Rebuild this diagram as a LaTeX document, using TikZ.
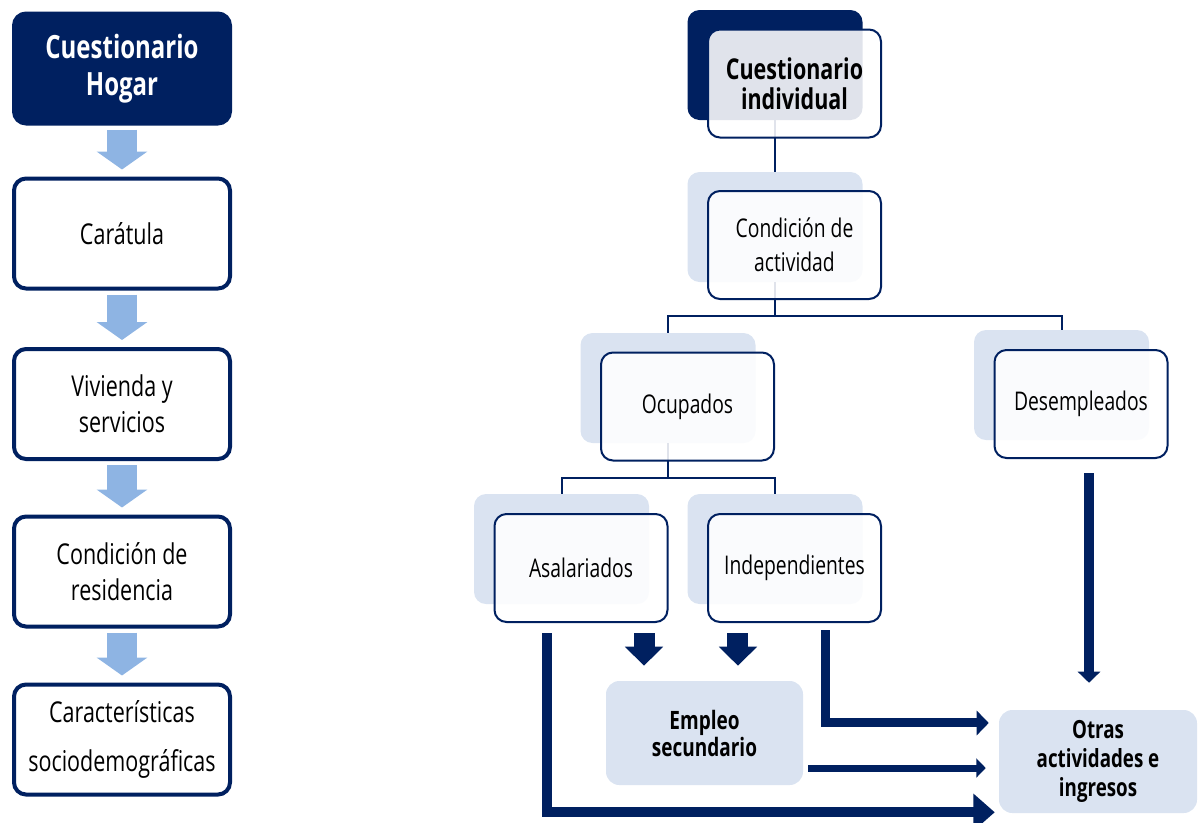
\documentclass[tikz,border=0pt]{standalone}
\usepackage{fontspec}
\setmainfont{Open Sans}[FakeStretch=0.75]
\usetikzlibrary{arrows.meta}
\definecolor{navy}{HTML}{002060}
\definecolor{lightarrow}{HTML}{8EB4E3}
\definecolor{backblue}{HTML}{DAE3F1}
\begin{document}
\begin{tikzpicture}[x=0.75pt,y=-0.75pt,
  leftbox/.style={draw=navy, line width=3pt, rounded corners=9pt, fill=white,
    minimum width=162pt, minimum height=82.5pt, align=center, inner sep=0pt,
    font=\fontsize{21.5}{27}\selectfont},
  headbox/.style={leftbox, fill=navy, text=white, font=\bfseries\fontsize{24}{28}\selectfont},
  backbox/.style={fill=backblue, rounded corners=9pt, minimum width=131.25pt,
    minimum height=82.5pt, inner sep=0pt},
  darkback/.style={backbox, fill=navy},
  frontbox/.style={draw=navy, line width=1.5pt, rounded corners=9pt, fill=white, fill opacity=0.88,
    text opacity=1, minimum width=129.75pt, minimum height=81pt, align=center, inner sep=0pt,
    font=\fontsize{19.3}{25.5}\selectfont},
  resultbox/.style={fill=backblue, rounded corners=10pt, align=center, inner sep=0pt},
  treeline/.style={draw=navy, line width=1.5pt},
  lightflow/.style={draw=lightarrow, line width=22.5pt,
    -{Triangle[length=13.5pt,width=37.5pt]}, shorten <=3pt, shorten >=5.25pt},
  blockdown/.style={draw=navy, line width=15.75pt, -{Triangle[length=14.25pt,width=27.75pt]}},
  flowthick/.style={draw=navy, line width=7.5pt, -{Triangle[length=16pt,width=27pt]}},
  flowmid/.style={draw=navy, line width=6.75pt, -{Triangle[length=9pt,width=18pt]}},
  flowthin/.style={draw=navy, line width=5.25pt, -{Triangle[length=7pt,width=14pt]}}
]
\useasboundingbox (0,0) rectangle (1198,822);

% left column
\node[headbox] (hogar) at (122,68.5) {Cuestionario\\Hogar};
\node[leftbox] (caratula) at (122,233.5) {Carátula};
\node[leftbox] (vivienda) at (122,404) {Vivienda y\\servicios};
\node[leftbox] (residencia) at (122,571.5) {Condición de\\residencia};
\node[leftbox, font=\fontsize{21.5}{36.75}\selectfont] (socio) at (122,739.5) {Características\\sociodemográficas};

\draw[lightflow] (hogar.south) -- (caratula.north);
\draw[lightflow] (caratula.south) -- (vivienda.north);
\draw[lightflow] (vivienda.south) -- (residencia.north);
\draw[lightflow] (residencia.south) -- (socio.north);

% right: back boxes
\node[darkback] (indivB) at (775,65) {};
\node[backbox] (activB) at (775,227) {};
\node[backbox] (ocupB) at (668,388) {};
\node[backbox] (desemB) at (1061.5,385) {};
\node[backbox] (asalB) at (561.5,549) {};
\node[backbox] (indepB) at (775,549) {};

% tree lines
\draw[treeline] (indivB.south) -- (activB.north);
\draw[treeline] (activB.south) -- (activB.south |- 0,316) coordinate (j1) -| (ocupB.north);
\draw[treeline] (j1) -| (desemB.north);
\draw[treeline] (ocupB.south) -- (ocupB.south |- 0,478) coordinate (j2) -| (asalB.north);
\draw[treeline] (j2) -| (indepB.north);

% front boxes
\node[frontbox, font=\bfseries\fontsize{21.5}{22.5}\selectfont] (indiv) at (794.5,83.5) {Cuestionario\\individual};
\node[frontbox] (activ) at (794.5,245) {Condición de\\actividad};
\node[frontbox] (ocup) at (687.5,406.5) {Ocupados};
\node[frontbox] (desem) at (1081,404) {Desempleados};
\node[frontbox] (asal) at (581,568) {Asalariados};
\node[frontbox] (indep) at (794.5,568) {Independientes};

% results
\node[resultbox, minimum width=147.75pt, minimum height=78pt, font=\bfseries\fontsize{19}{20.25}\selectfont] (empleo) at (704.5,733) {Empleo\\secundario};
\node[resultbox, minimum width=148.5pt, minimum height=77.25pt, font=\bfseries\fontsize{18.75}{21.75}\selectfont] (otras) at (1098,761.5) {Otras\\actividades e\\ingresos};

% flows
\draw[blockdown] ([xshift=47.25pt,yshift=-7.5pt]asal.south) coordinate (a1) -- ([yshift=11.25pt]a1 |- empleo.north);
\draw[blockdown] ([xshift=-42.4pt,yshift=-7.5pt]indep.south) coordinate (a2) -- ([yshift=11.25pt]a2 |- empleo.north);
\draw[flowthick] ([xshift=-25.5pt,yshift=-7.5pt]asal.south) |- ([xshift=-3pt,yshift=0.75pt]otras.south west);
\draw[flowmid] ([xshift=22.9pt,yshift=-5.25pt]indep.south) |- ([xshift=-7.5pt,yshift=28.9pt]otras.west);
\draw[flowthin] ([xshift=3.75pt,yshift=-26.25pt]empleo.east) coordinate (e1) -- ([xshift=-9.75pt]otras.west |- e1);
\draw[flowthick, -{Triangle[length=8.25pt,width=16.5pt]}] ([xshift=6pt,yshift=-10.5pt]desem.south) coordinate (d1) -- ([yshift=20.25pt]d1 |- otras.north);
\end{tikzpicture}
\end{document}
